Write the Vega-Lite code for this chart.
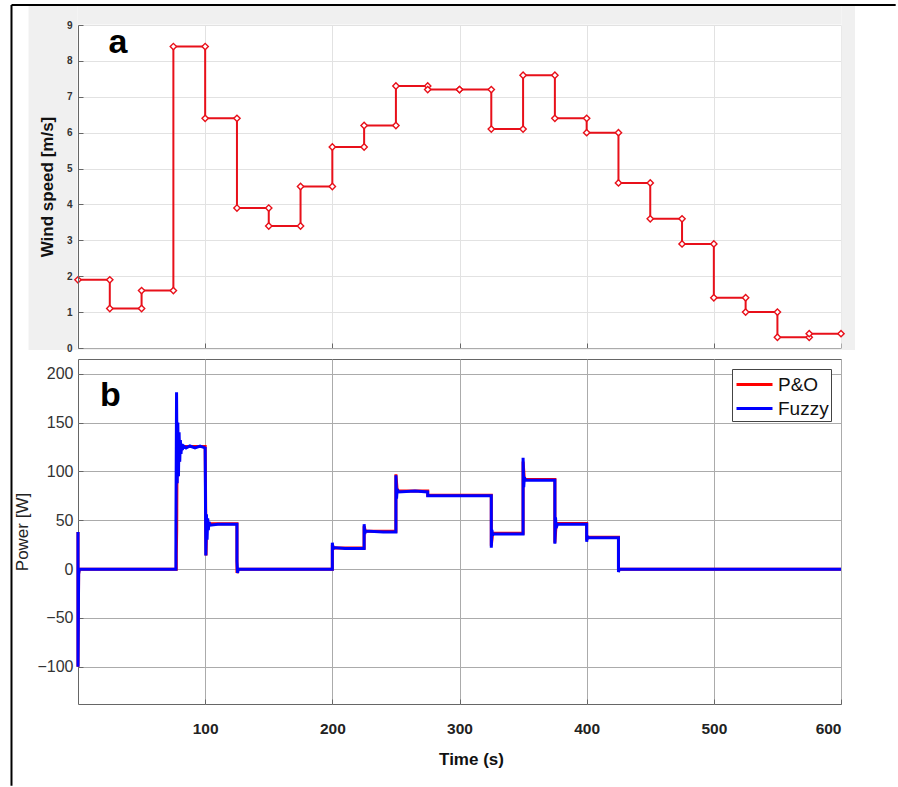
{
  "$schema": "https://vega.github.io/schema/vega-lite/v6.json",
  "padding": {"left": 10, "top": 4, "right": 0, "bottom": 0},
  "background": "white",
  "spacing": 11,
  "bounds": "flush",
  "config": {
    "view": {"stroke": null},
    "font": "Liberation Sans",
    "axis": {"labelFont": "Liberation Sans", "titleFont": "Liberation Sans", "labelOverlap": false}
  },
  "datasets": {
    "one": [{"k": 1}],
    "wind": [
      {"t":0,"v":1.9,"o":0},{"t":25,"v":1.9,"o":1},{"t":25,"v":1.1,"o":2},{"t":50,"v":1.1,"o":3},
      {"t":50,"v":1.6,"o":4},{"t":75,"v":1.6,"o":5},{"t":75,"v":8.4,"o":6},{"t":100,"v":8.4,"o":7},
      {"t":100,"v":6.4,"o":8},{"t":125,"v":6.4,"o":9},{"t":125,"v":3.9,"o":10},{"t":150,"v":3.9,"o":11},
      {"t":150,"v":3.4,"o":12},{"t":175,"v":3.4,"o":13},{"t":175,"v":4.5,"o":14},{"t":200,"v":4.5,"o":15},
      {"t":200,"v":5.6,"o":16},{"t":225,"v":5.6,"o":17},{"t":225,"v":6.2,"o":18},{"t":250,"v":6.2,"o":19},
      {"t":250,"v":7.3,"o":20},{"t":275,"v":7.3,"o":21},{"t":275,"v":7.2,"o":22},{"t":300,"v":7.2,"o":23},
      {"t":300,"v":7.2,"o":24},{"t":325,"v":7.2,"o":25},{"t":325,"v":6.1,"o":26},{"t":350,"v":6.1,"o":27},
      {"t":350,"v":7.6,"o":28},{"t":375,"v":7.6,"o":29},{"t":375,"v":6.4,"o":30},{"t":400,"v":6.4,"o":31},
      {"t":400,"v":6.0,"o":32},{"t":425,"v":6.0,"o":33},{"t":425,"v":4.6,"o":34},{"t":450,"v":4.6,"o":35},
      {"t":450,"v":3.6,"o":36},{"t":475,"v":3.6,"o":37},{"t":475,"v":2.9,"o":38},{"t":500,"v":2.9,"o":39},
      {"t":500,"v":1.4,"o":40},{"t":525,"v":1.4,"o":41},{"t":525,"v":1.0,"o":42},{"t":550,"v":1.0,"o":43},
      {"t":550,"v":0.3,"o":44},{"t":575,"v":0.3,"o":45},{"t":575,"v":0.4,"o":46},{"t":600,"v":0.4,"o":47}
    ],
    "power": [
      {"s":"P&O","t":0,"p":38,"o":0},{"s":"P&O","t":0,"p":-100,"o":1},{"s":"P&O","t":0.5,"p":-5,"o":2},{"s":"P&O","t":1,"p":0,"o":3},
      {"s":"P&O","t":77.3,"p":0,"o":4},{"s":"P&O","t":77.3,"p":15,"o":5},{"s":"P&O","t":77.6,"p":40,"o":6},{"s":"P&O","t":78,"p":145,"o":7},
      {"s":"P&O","t":78.5,"p":95,"o":8},{"s":"P&O","t":79,"p":138,"o":9},{"s":"P&O","t":79.5,"p":110,"o":10},{"s":"P&O","t":80,"p":130,"o":11},
      {"s":"P&O","t":81,"p":122,"o":12},{"s":"P&O","t":82,"p":125.5,"o":13},{"s":"P&O","t":90,"p":125.5,"o":14},{"s":"P&O","t":100,"p":125.5,"o":15},
      {"s":"P&O","t":100.7,"p":14,"o":16},{"s":"P&O","t":101.2,"p":50,"o":17},{"s":"P&O","t":102,"p":46.5,"o":18},{"s":"P&O","t":125,"p":46.5,"o":19},
      {"s":"P&O","t":125,"p":-4,"o":20},{"s":"P&O","t":126,"p":0,"o":21},{"s":"P&O","t":200,"p":0,"o":22},{"s":"P&O","t":200,"p":25,"o":23},
      {"s":"P&O","t":201,"p":21.7,"o":24},{"s":"P&O","t":225,"p":21.7,"o":25},{"s":"P&O","t":225,"p":44,"o":26},{"s":"P&O","t":226,"p":38.7,"o":27},
      {"s":"P&O","t":250,"p":38.7,"o":28},{"s":"P&O","t":250,"p":97,"o":29},{"s":"P&O","t":251,"p":80,"o":30},{"s":"P&O","t":275,"p":80,"o":31},
      {"s":"P&O","t":275,"p":75.7,"o":32},{"s":"P&O","t":325,"p":75.7,"o":33},{"s":"P&O","t":325,"p":24,"o":34},{"s":"P&O","t":326,"p":36.7,"o":35},
      {"s":"P&O","t":350,"p":36.7,"o":36},{"s":"P&O","t":350,"p":110,"o":37},{"s":"P&O","t":351,"p":91.7,"o":38},{"s":"P&O","t":375,"p":91.7,"o":39},
      {"s":"P&O","t":375,"p":27,"o":40},{"s":"P&O","t":376,"p":46.7,"o":41},{"s":"P&O","t":400,"p":46.7,"o":42},{"s":"P&O","t":400,"p":30,"o":43},
      {"s":"P&O","t":401,"p":32.7,"o":44},{"s":"P&O","t":425,"p":32.7,"o":45},{"s":"P&O","t":425,"p":0,"o":46},{"s":"P&O","t":600,"p":0,"o":47},
      {"s":"Fuzzy","t":0,"p":38,"o":0},{"s":"Fuzzy","t":0,"p":-100,"o":1},{"s":"Fuzzy","t":0.5,"p":-5,"o":2},{"s":"Fuzzy","t":1,"p":0,"o":3},
      {"s":"Fuzzy","t":77,"p":0,"o":4},{"s":"Fuzzy","t":77,"p":40,"o":5},{"s":"Fuzzy","t":77.5,"p":181,"o":6},{"s":"Fuzzy","t":78,"p":88,"o":7},
      {"s":"Fuzzy","t":78.5,"p":150,"o":8},{"s":"Fuzzy","t":79,"p":95,"o":9},{"s":"Fuzzy","t":79.5,"p":140,"o":10},{"s":"Fuzzy","t":80,"p":110,"o":11},
      {"s":"Fuzzy","t":80.5,"p":132,"o":12},{"s":"Fuzzy","t":81,"p":118,"o":13},{"s":"Fuzzy","t":81.5,"p":128,"o":14},{"s":"Fuzzy","t":82,"p":122,"o":15},
      {"s":"Fuzzy","t":83,"p":126,"o":16},{"s":"Fuzzy","t":85,"p":124,"o":17},{"s":"Fuzzy","t":88,"p":126,"o":18},{"s":"Fuzzy","t":92,"p":124,"o":19},
      {"s":"Fuzzy","t":96,"p":126,"o":20},{"s":"Fuzzy","t":100,"p":124,"o":21},{"s":"Fuzzy","t":100.5,"p":14,"o":22},{"s":"Fuzzy","t":101,"p":56,"o":23},
      {"s":"Fuzzy","t":101.5,"p":30,"o":24},{"s":"Fuzzy","t":102,"p":52,"o":25},{"s":"Fuzzy","t":102.5,"p":40,"o":26},{"s":"Fuzzy","t":103,"p":48,"o":27},
      {"s":"Fuzzy","t":104,"p":45,"o":28},{"s":"Fuzzy","t":110,"p":46,"o":29},{"s":"Fuzzy","t":118,"p":46,"o":30},{"s":"Fuzzy","t":125,"p":46,"o":31},
      {"s":"Fuzzy","t":125,"p":8,"o":32},{"s":"Fuzzy","t":125.5,"p":-4,"o":33},{"s":"Fuzzy","t":126,"p":0,"o":34},{"s":"Fuzzy","t":200,"p":0,"o":35},
      {"s":"Fuzzy","t":200,"p":27,"o":36},{"s":"Fuzzy","t":200.5,"p":20,"o":37},{"s":"Fuzzy","t":201,"p":22,"o":38},{"s":"Fuzzy","t":210,"p":21,"o":39},
      {"s":"Fuzzy","t":225,"p":21,"o":40},{"s":"Fuzzy","t":225,"p":46,"o":41},{"s":"Fuzzy","t":225.5,"p":36,"o":42},{"s":"Fuzzy","t":226,"p":39,"o":43},
      {"s":"Fuzzy","t":240,"p":38,"o":44},{"s":"Fuzzy","t":250,"p":38,"o":45},{"s":"Fuzzy","t":250,"p":96,"o":46},{"s":"Fuzzy","t":250.5,"p":72,"o":47},
      {"s":"Fuzzy","t":251,"p":82,"o":48},{"s":"Fuzzy","t":252,"p":79,"o":49},{"s":"Fuzzy","t":265,"p":80,"o":50},{"s":"Fuzzy","t":275,"p":79,"o":51},
      {"s":"Fuzzy","t":275,"p":75,"o":52},{"s":"Fuzzy","t":300,"p":75,"o":53},{"s":"Fuzzy","t":325,"p":75,"o":54},{"s":"Fuzzy","t":325,"p":22,"o":55},
      {"s":"Fuzzy","t":325.5,"p":40,"o":56},{"s":"Fuzzy","t":326,"p":35,"o":57},{"s":"Fuzzy","t":327,"p":36,"o":58},{"s":"Fuzzy","t":350,"p":36,"o":59},
      {"s":"Fuzzy","t":350,"p":114,"o":60},{"s":"Fuzzy","t":350.5,"p":84,"o":61},{"s":"Fuzzy","t":351,"p":94,"o":62},{"s":"Fuzzy","t":352,"p":91,"o":63},
      {"s":"Fuzzy","t":375,"p":91,"o":64},{"s":"Fuzzy","t":375,"p":26,"o":65},{"s":"Fuzzy","t":375.5,"p":53,"o":66},{"s":"Fuzzy","t":376,"p":42,"o":67},
      {"s":"Fuzzy","t":377,"p":46,"o":68},{"s":"Fuzzy","t":400,"p":46,"o":69},{"s":"Fuzzy","t":400,"p":28,"o":70},{"s":"Fuzzy","t":400.5,"p":34,"o":71},
      {"s":"Fuzzy","t":401,"p":32,"o":72},{"s":"Fuzzy","t":425,"p":32,"o":73},{"s":"Fuzzy","t":425,"p":-3,"o":74},{"s":"Fuzzy","t":425.5,"p":0,"o":75},
      {"s":"Fuzzy","t":600,"p":0,"o":76}
    ],
    "labelsA": [{"t":31.4,"v":8.22,"txt":"a"}],
    "labelsB": [{"t":25.5,"p":166.5,"txt":"b"}]
  },
  "resolve": {"legend": {"color": "independent"}},
  "vconcat": [
    {
      "width": 763,
      "height": 323,
      "resolve": {"axis": {"y": "independent"}},
      "layer": [
        {
          "data": {"name": "one"},
          "mark": {"type": "rect", "fill": "#f0f0f0", "clip": false},
          "encoding": {"x": {"datum": -38.9, "type": "quantitative"}, "x2": {"datum": -0.4}, "y": {"datum": -0.056, "type": "quantitative", "axis": null}, "y2": {"datum": 9.53}}
        },
        {
          "data": {"name": "one"},
          "mark": {"type": "rect", "fill": "#f0f0f0", "clip": false},
          "encoding": {"x": {"datum": 600.4, "type": "quantitative"}, "x2": {"datum": 611}, "y": {"datum": -0.056, "type": "quantitative", "axis": null}, "y2": {"datum": 9.53}}
        },
        {
          "data": {"name": "one"},
          "mark": {"type": "rect", "fill": "#f0f0f0", "clip": false},
          "encoding": {"x": {"datum": -0.4, "type": "quantitative"}, "x2": {"datum": 600.4}, "y": {"datum": 9.015, "type": "quantitative", "axis": null}, "y2": {"datum": 9.53}}
        },
        {
          "data": {"name": "one"},
          "mark": {"type": "rect", "fill": "#f0f0f0", "clip": false},
          "encoding": {"x": {"datum": -0.4, "type": "quantitative"}, "x2": {"datum": 600.4}, "y": {"datum": -0.056, "type": "quantitative", "axis": null}, "y2": {"datum": -0.015}}
        },
        {
          "data": {"name": "one"},
          "mark": {"type": "rule", "stroke": "#000", "strokeWidth": 2, "clip": false},
          "encoding": {"x": {"datum": -52.3, "type": "quantitative"}, "x2": {"datum": 643}, "y": {"datum": 9.557, "type": "quantitative", "axis": null}}
        },
        {
          "data": {"name": "one"},
          "mark": {"type": "rule", "stroke": "#000", "strokeWidth": 2, "clip": false},
          "encoding": {"x": {"datum": -52.3, "type": "quantitative"}, "y": {"datum": 9.557, "type": "quantitative", "axis": null}, "y2": {"datum": -12.2}}
        },
        {
          "data": {"name": "wind"},
          "mark": {"type": "line", "color": "#e8101a", "strokeWidth": 2},
          "encoding": {
            "x": {"field": "t", "type": "quantitative", "scale": {"domain": [0, 600], "nice": false},
              "axis": {"values": [100,200,300,400,500,600], "labels": false, "title": null, "tickSize": -5,
                "tickColor": "#666", "domainColor": "#666", "gridColor": "#e2e2e2", "grid": true}},
            "y": {"field": "v", "type": "quantitative", "scale": {"domain": [0, 9], "nice": false},
              "axis": {"orient": "left", "values": [0,1,2,3,4,5,6,7,8,9], "grid": true, "labels": false, "ticks": false, "domain": false,
                "title": null, "gridColor": "#e2e2e2", "maxExtent": 0, "minExtent": 0, "zindex": 0}},
            "order": {"field": "o", "type": "quantitative"}
          }
        },
        {
          "data": {"name": "wind"},
          "mark": {"type": "point", "shape": "diamond", "filled": true, "fill": "white", "stroke": "#e8101a", "strokeWidth": 1.4, "size": 40, "opacity": 1, "fillOpacity": 1},
          "encoding": {
            "x": {"field": "t", "type": "quantitative"},
            "y": {"field": "v", "type": "quantitative",
              "axis": {"orient": "left", "values": [0,1,2,3,4,5,6,7,8,9], "grid": false, "zindex": 1, "title": "Wind speed [m/s]", "titleFontSize": 17,
                "titleFontWeight": "bold", "titleColor": "#111", "titlePadding": 10, "labelOverlap": false, "labelSeparation": -30,
                "labelFontSize": 10, "labelFontWeight": "bold", "labelColor": "#333", "labelPadding": 11,
                "tickSize": -5, "tickColor": "#666", "domainColor": "#666"}}
          }
        },
        {
          "data": {"name": "labelsA"},
          "mark": {"type": "text", "fontSize": 34, "fontWeight": "bold", "font": "Liberation Sans", "align": "center", "baseline": "alphabetic", "color": "#000"},
          "encoding": {"x": {"field": "t", "type": "quantitative"}, "y": {"field": "v", "type": "quantitative", "axis": null}, "text": {"field": "txt"}}
        }
      ]
    },
    {
      "width": 763,
      "height": 345,
      "view": {"stroke": "#666", "strokeWidth": 1},
      "encoding": {
        "x": {"field": "t", "type": "quantitative", "scale": {"domain": [0, 600], "nice": false},
          "axis": {"values": [100,200,300,400,500,600], "title": "Time (s)", "titleFontSize": 17, "titleFontWeight": "bold",
            "titleColor": "#111", "titlePadding": 15, "titleX": 393,
            "labelFontSize": 15.5, "labelFontWeight": "bold", "labelColor": "#222", "labelPadding": 22,
            "tickSize": -5, "tickColor": "#666", "domain": false, "gridColor": "#ababab", "grid": true}},
        "y": {"field": "p", "type": "quantitative", "scale": {"domain": [-138, 215], "nice": false, "zero": false},
          "axis": {"values": [-100,-50,0,50,100,150,200], "title": "Power [W]", "titleFontSize": 17, "titleFontWeight": "normal",
            "titleColor": "#222", "titlePadding": 5,
            "labelFontSize": 16, "labelColor": "#333", "labelPadding": 10,
            "tickSize": -5, "tickColor": "#666", "domain": false, "gridColor": "#ababab"}}
      },
      "layer": [
        {
          "data": {"name": "power"},
          "mark": {"type": "line", "strokeWidth": 3},
          "encoding": {
            "color": {"field": "s", "type": "nominal", "sort": ["P&O", "Fuzzy"],
              "scale": {"domain": ["P&O", "Fuzzy"], "range": ["#ff0000", "#0000ff"]},
              "legend": {"title": null, "orient": "top-right", "offset": 10, "symbolType": "M-1.5,0H1.5", "symbolStrokeWidth": 3,
                "symbolSize": 576, "symbolOffset": 7, "labelFontSize": 19, "labelFont": "Liberation Sans", "labelColor": "#111", "labelOffset": 10,
                "strokeColor": "#444", "fillColor": "white", "padding": 2, "rowPadding": 0, "cornerRadius": 0}},
            "strokeWidth": {"field": "s", "type": "nominal", "scale": {"domain": ["P&O", "Fuzzy"], "range": [2.5, 3.5]}, "legend": null},
            "order": {"field": "o", "type": "quantitative"}
          }
        },
        {
          "data": {"name": "labelsB"},
          "mark": {"type": "text", "fontSize": 34, "fontWeight": "bold", "font": "Liberation Sans", "align": "center", "baseline": "alphabetic", "color": "#000"},
          "encoding": {"text": {"field": "txt"}}
        }
      ]
    }
  ]
}
